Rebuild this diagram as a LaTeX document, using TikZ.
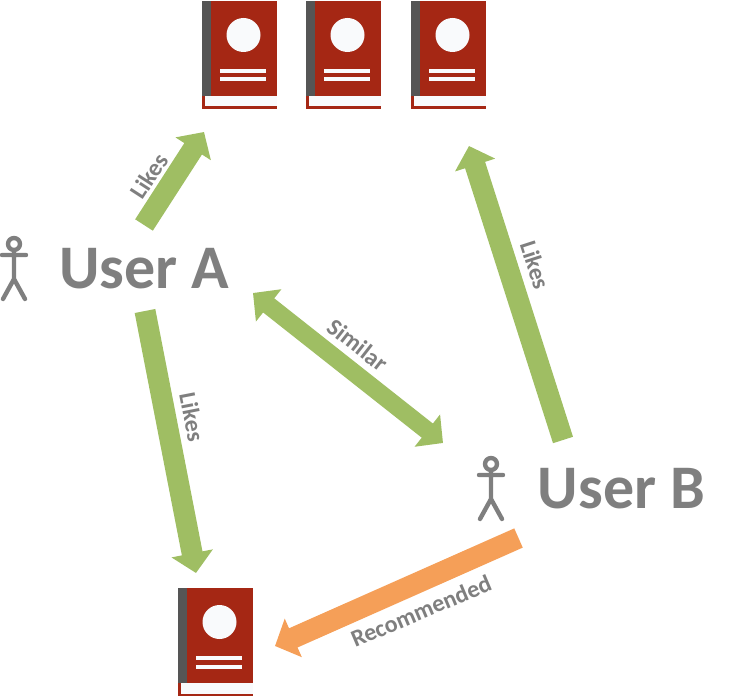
\documentclass[tikz,border=0pt]{standalone}
\usepackage{fontspec}
\setmainfont{Carlito}
\usetikzlibrary{arrows.meta}
\definecolor{bookred}{HTML}{A52714}
\definecolor{bookgrey}{HTML}{555555}
\definecolor{bookwhite}{HTML}{F9FAFC}
\definecolor{likegreen}{HTML}{9FBE63}
\definecolor{recorange}{HTML}{F59F58}
\definecolor{txtgrey}{HTML}{7F7F7F}
\tikzset{
  x=1pt,y=-1pt,
  bookicon/.pic={
    \fill[bookred] (0,95) rectangle (75,108);
    \fill[bookwhite] (3,95) rectangle (75,105.5);
    \fill[bookgrey] (0,0) rectangle (8.5,95);
    \fill[bookred] (8.5,0) rectangle (75,95);
    \fill[bookwhite] (41.5,34) circle[radius=17];
    \fill[bookwhite] (18,68) rectangle (64,72);
    \fill[bookwhite] (18,76.5) rectangle (64,80.5);
  },
  personicon/.pic={
    \draw[txtgrey,line width=4.4pt,line cap=round,line join=round]
      (0,0) circle[radius=6]
      (0,6) -- (0,35) -- (-11,55)
      (0,35) -- (11,55)
      (-12,11) -- (12,11);
  },
  bigname/.style={text=txtgrey,font=\fontsize{62}{62}\selectfont\bfseries,inner sep=0pt,anchor=base},
  edgelabel/.style={text=txtgrey,font=\fontsize{24}{24}\selectfont\bfseries,inner sep=0pt},
  likesarrow/.style={draw=likegreen,line width=21pt,-{Triangle[length=20pt,width=41pt]}},
  bothways/.style={draw=likegreen,line width=18pt,{Triangle[length=20pt,width=40pt]}-{Triangle[length=20pt,width=40pt]}},
  recarrow/.style={draw=recorange,line width=21pt,-{Triangle[length=20pt,width=41pt]}},
}
\begin{document}
\begin{tikzpicture}
\useasboundingbox (0,0) rectangle (737,698);
\pic at (202,1) {bookicon};
\pic at (306,1) {bookicon};
\pic at (411,1) {bookicon};
\pic at (178,588) {bookicon};
\pic at (14,244) {personicon};
\pic at (491,464) {personicon};
\node[bigname] (usera) at (144.5,288) {User A};
\node[bigname] (userb) at (621.5,508) {User B};
\coordinate (a1s) at (144,225);
\coordinate (a1e) at (204,132);
\coordinate (a2s) at (145,311);
\coordinate (a2e) at (196,573);
\coordinate (bs) at (563,440);
\coordinate (be) at (469,146);
\coordinate (ss) at (253,293);
\coordinate (se) at (443,443);
\coordinate (rs) at (518.5,538);
\coordinate (re) at (275,646);
\draw[likesarrow] (a1s) -- (a1e);
\draw[likesarrow] (a2s) -- (a2e);
\draw[likesarrow] (bs) -- (be);
\draw[bothways] (ss) -- (se);
\draw[recarrow] (rs) -- (re);
\node[edgelabel,rotate=57] (l1) at (149,176) {Likes};
\node[edgelabel,rotate=-79] (l2) at (192,417) {Likes};
\node[edgelabel,rotate=-72] (l3) at (535,265) {Likes};
\node[edgelabel,rotate=-38] (l4) at (358,345) {Similar};
\node[edgelabel,rotate=23] (l5) at (421,611) {Recommended};
\end{tikzpicture}
\end{document}
